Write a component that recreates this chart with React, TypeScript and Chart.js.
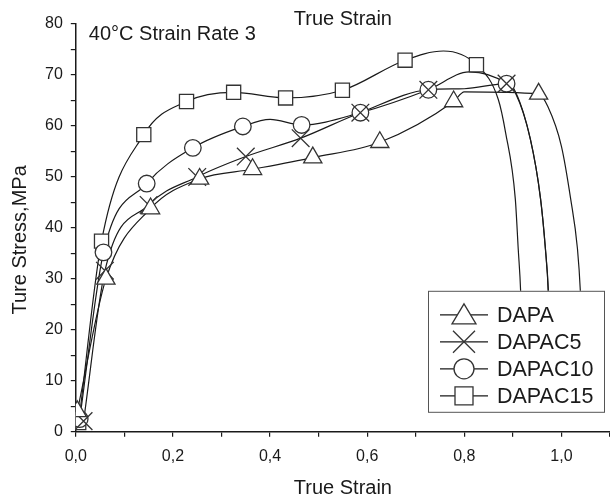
import React, { useEffect, useRef } from 'react';
import { Chart, registerables } from 'chart.js';

Chart.register(...registerables);

// ---------- data (true strain / true stress, MPa) ----------
const seriesNames = ['DAPA', 'DAPAC5', 'DAPAC10', 'DAPAC15'];

const dapaStrain = [0.003, 0.062, 0.154, 0.255, 0.364, 0.488, 0.626, 0.778, 0.80, 0.953, 0.972, 1.0, 1.019, 1.033, 1.039, 1.047];
const dapaStress = [4.0, 30.0, 43.8, 49.6, 51.5, 53.8, 56.8, 64.8, 66.7, 66.3, 63.8, 56.0, 45.7, 35.9, 27.5, 6.6];
const dapaMarked = [1, 1, 1, 1, 1, 1, 1, 1, 0, 1, 0, 0, 0, 0, 0, 0];

const dapac5Strain = [0.016, 0.06, 0.15, 0.25, 0.35, 0.463, 0.586, 0.726, 0.80, 0.887, 0.901, 0.936, 0.957, 0.967, 0.973, 0.979];
const dapac5Stress = [2.1, 31.6, 44.5, 50.0, 54.0, 57.6, 62.6, 67.1, 67.3, 68.3, 67.5, 57.4, 45.7, 35.9, 27.5, 6.6];
const dapac5Marked = [1, 1, 1, 1, 1, 1, 1, 1, 0, 1, 0, 0, 0, 0, 0, 0];

const dapac10Strain = [0.008, 0.057, 0.146, 0.241, 0.344, 0.40, 0.465, 0.586, 0.726, 0.81, 0.887, 0.905, 0.936, 0.957, 0.967, 0.973, 0.980];
const dapac10Stress = [2.5, 35.2, 48.7, 55.7, 59.9, 61.3, 60.2, 62.6, 67.1, 70.6, 68.3, 66.5, 57.4, 45.7, 35.9, 27.5, 6.6];
const dapac10Marked = [1, 1, 1, 1, 1, 0, 1, 1, 1, 0, 1, 0, 0, 0, 0, 0, 0];

const dapac15Strain = [0.006, 0.053, 0.14, 0.228, 0.325, 0.432, 0.549, 0.678, 0.757, 0.825, 0.870, 0.885, 0.905, 0.911, 0.916, 0.922];
const dapac15Stress = [1.8, 37.4, 58.3, 64.8, 66.6, 65.5, 67.0, 72.9, 74.7, 72.0, 65.2, 58.7, 45.7, 35.9, 27.5, 6.6];
const dapac15Marked = [1, 1, 1, 1, 1, 1, 1, 1, 0, 1, 0, 0, 0, 0, 0, 0];

const xMin = 0;
const xMax = 1.1;
const xStep = 0.1;
const yMin = 0;
const yMax = 80;
const yStep = 5;

const xTitle = 'True Strain';
const topTitle = 'True Strain';
const yTitle = 'Ture Stress,MPa';
const annotation = '40°C Strain Rate 3';

// ---------- styling ----------
const FONT = '"Liberation Sans", Arial, Helvetica, sans-serif';
const INK = '#1a1a1a';
const pointStyles = ['triangle', 'crossRot', 'circle', 'rect'];
const pointSizes = [10.5, 12.5, 8.3, 10];

type Series = { name: string; x: number[]; y: number[]; m: number[] };

const series: Series[] = [
  { name: seriesNames[0], x: dapaStrain, y: dapaStress, m: dapaMarked },
  { name: seriesNames[1], x: dapac5Strain, y: dapac5Stress, m: dapac5Marked },
  { name: seriesNames[2], x: dapac10Strain, y: dapac10Stress, m: dapac10Marked },
  { name: seriesNames[3], x: dapac15Strain, y: dapac15Stress, m: dapac15Marked },
];

function drawLegendMarker(ctx: CanvasRenderingContext2D, style: string, x: number, y: number) {
  ctx.beginPath();
  if (style === 'triangle') {
    const w = 24, h = 20;
    ctx.moveTo(x, y - h / 2 - 1);
    ctx.lineTo(x + w / 2, y + h / 2 - 1);
    ctx.lineTo(x - w / 2, y + h / 2 - 1);
    ctx.closePath();
    ctx.fill();
    ctx.stroke();
  } else if (style === 'crossRot') {
    const s = 11;
    ctx.moveTo(x - s, y - s);
    ctx.lineTo(x + s, y + s);
    ctx.moveTo(x + s, y - s);
    ctx.lineTo(x - s, y + s);
    ctx.stroke();
  } else if (style === 'circle') {
    ctx.arc(x, y, 10, 0, Math.PI * 2);
    ctx.fill();
    ctx.stroke();
  } else {
    const s = 9;
    ctx.rect(x - s, y - s, 2 * s, 2 * s);
    ctx.fill();
    ctx.stroke();
  }
}

const overlayPlugin = {
  id: 'overlay',
  afterDatasetsDraw(chart: any) {
    const { ctx, chartArea: a } = chart;
    ctx.save();
    ctx.fillStyle = INK;
    ctx.textBaseline = 'middle';
    // top title
    ctx.font = `20px ${FONT}`;
    ctx.textAlign = 'center';
    ctx.fillText(topTitle, (a.left + a.right) / 2, a.top - 5);
    // y title (rotated)
    ctx.save();
    ctx.translate(20, (a.top + a.bottom) / 2 + 12);
    ctx.rotate(-Math.PI / 2);
    ctx.fillText(yTitle, 0, 0);
    ctx.restore();
    // annotation
    ctx.textAlign = 'left';
    ctx.fillText(annotation, a.left + 13, a.top + 10);

    // legend box
    const bw = 176, bh = 121;
    const bx = a.right - 6 - bw;
    const by = a.bottom - 20 - bh;
    ctx.fillStyle = '#ffffff';
    ctx.fillRect(bx, by, bw, bh);
    ctx.strokeStyle = '#555';
    ctx.lineWidth = 1;
    ctx.strokeRect(bx + 0.5, by + 0.5, bw, bh);
    ctx.font = `21.5px ${FONT}`;
    for (let i = 0; i < series.length; i++) {
      const cy = by + 24 + i * 27;
      ctx.strokeStyle = INK;
      ctx.lineWidth = 1.2;
      ctx.beginPath();
      ctx.moveTo(bx + 12, cy);
      ctx.lineTo(bx + 60, cy);
      ctx.stroke();
      ctx.fillStyle = '#ffffff';
      ctx.strokeStyle = '#333';
      ctx.lineWidth = 1.3;
      drawLegendMarker(ctx, pointStyles[i], bx + 36, cy);
      ctx.fillStyle = INK;
      ctx.textAlign = 'left';
      ctx.fillText(series[i].name, bx + 69, cy + 1);
    }
    ctx.restore();
  },
};

export default function App() {
  const ref = useRef<HTMLCanvasElement | null>(null);

  useEffect(() => {
    if (!ref.current) return;
    Chart.defaults.font.family = FONT;
    Chart.defaults.color = INK;

    const lineSets = series.map((s) => ({
      label: s.name,
      data: s.x.map((v, i) => ({ x: v, y: s.y[i] })),
      borderColor: INK,
      borderWidth: 1.2,
      pointRadius: 0,
      fill: false,
      cubicInterpolationMode: 'monotone' as const,
      order: 2,
    }));
    const markerSets = series.map((s, k) => ({
      label: s.name + ' markers',
      data: s.x.map((v, i) => ({ x: v, y: s.y[i] })).filter((_, i) => s.m[i] === 1),
      showLine: false,
      pointStyle: pointStyles[k],
      pointRadius: pointSizes[k],
      pointBackgroundColor: '#ffffff',
      pointBorderColor: '#333',
      pointBorderWidth: 1.3,
      order: 1,
    }));

    const chart = new Chart(ref.current, {
      type: 'line',
      data: { datasets: [...lineSets, ...markerSets] as any },
      options: {
        animation: false,
        responsive: false,
        maintainAspectRatio: false,
        layout: { autoPadding: false, padding: { left: 37, right: 0, top: 24, bottom: 2 } },
        plugins: {
          legend: { display: false },
          tooltip: { enabled: false },
          title: { display: false },
        },
        scales: {
          x: {
            type: 'linear',
            min: xMin,
            max: xMax,
            afterFit: (scale: any) => {
              scale.paddingRight = 0;
            },
            border: { color: INK, width: 1.5 },
            grid: { drawOnChartArea: false, drawTicks: true, tickLength: 5, color: INK, lineWidth: 1.2 },
            ticks: {
              stepSize: xStep,
              autoSkip: false,
              maxRotation: 0,
              padding: 10,
              color: INK,
              font: { size: 16 },
              callback: (v: any) => {
                const k = Math.round(Number(v) * 10);
                return k % 2 === 0 && k <= 10 ? (k / 10).toFixed(1).replace('.', ',') : '';
              },
            },
            title: { display: true, text: xTitle, color: INK, font: { size: 20 }, padding: { top: 0, bottom: 1 } },
          },
          y: {
            type: 'linear',
            min: yMin,
            max: yMax,
            border: { color: INK, width: 1.5 },
            grid: { drawOnChartArea: false, drawTicks: true, tickLength: 5, color: INK, lineWidth: 1.2 },
            ticks: {
              stepSize: yStep,
              autoSkip: false,
              padding: 8,
              color: INK,
              font: { size: 16 },
              callback: (v: any) => (Number(v) % 10 === 0 ? String(v) : ''),
            },
          },
        },
      },
      plugins: [overlayPlugin],
    });
    return () => chart.destroy();
  }, []);

  return (
    <div style={{ position: 'fixed', left: 0, top: 0, width: 610, height: 503, background: '#fff' }}>
      <canvas ref={ref} width={610} height={503} />
    </div>
  );
}
